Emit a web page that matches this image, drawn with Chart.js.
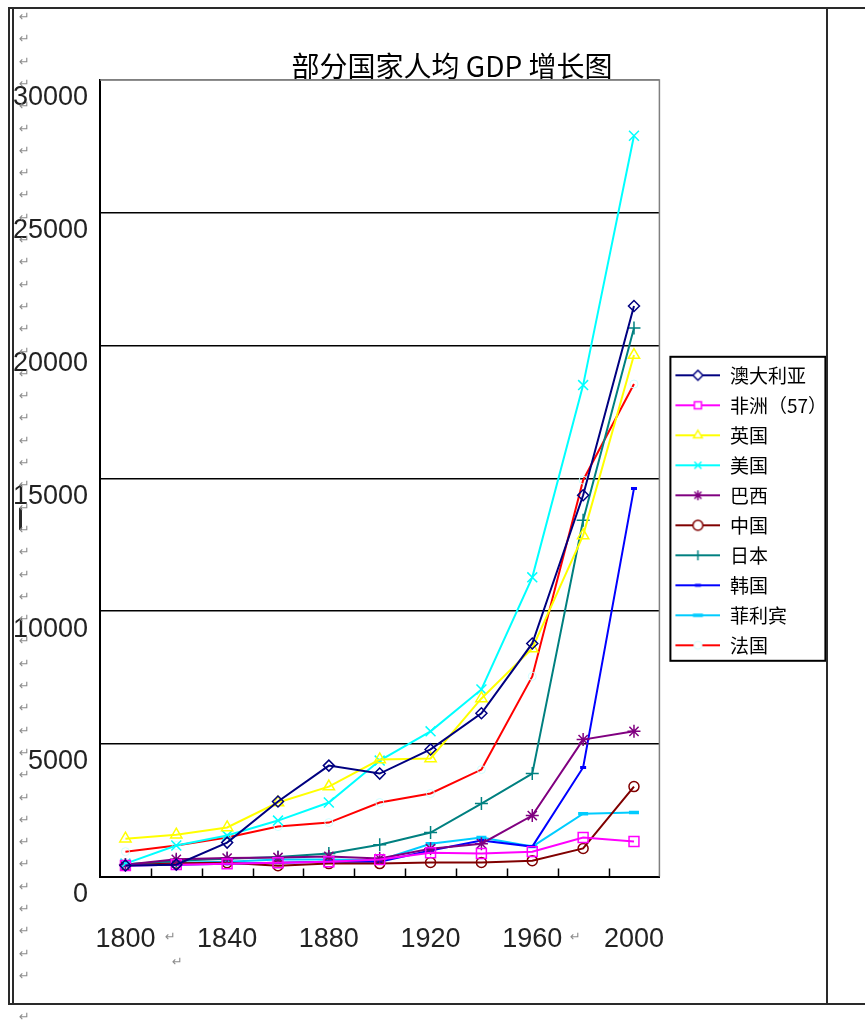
<!DOCTYPE html>
<html>
<head>
<meta charset="utf-8">
<script src="https://cdn.jsdelivr.net/npm/chart.js@4.4.1/dist/chart.umd.min.js"></script>
<style>
  html, body { margin: 0; padding: 0; background: #fff; width: 865px; height: 1024px; overflow: hidden; position: relative; }
  #wrap { position: absolute; left: 12px; top: 30px; width: 825px; height: 977px; }
  .ln { position: absolute; background: #2a2a2a; }
  .pm { position: absolute; font: 13px "DejaVu Sans"; color: #8c8c8c; line-height: 14px; }
</style>
</head>
<body>
<div id="wrap"><canvas id="myChart" width="825" height="977"></canvas></div>
<div id="deco"></div>
<script>
const years = ["1800", "1820", "1840", "1860", "1880", "1900", "1920", "1940", "1960", "1980", "2000"];
const xTickLabels = ["1800", "1840", "1880", "1920", "1960", "2000"];
const yTickLabels = ["0", "5000", "10000", "15000", "20000", "25000", "30000"];

const australia = [420, 450, 1280, 2830, 4180, 3880, 4790, 6150, 8780, 14360, 21490];
const africa = [420, 450, 480, 520, 560, 640, 900, 870, 940, 1470, 1320];
const uk = [1430, 1580, 1850, 2790, 3390, 4410, 4450, 6710, 8590, 12850, 19640];
const usa = [490, 1170, 1545, 2110, 2790, 4370, 5470, 7050, 11270, 18510, 27900];
const brazil = [450, 650, 700, 720, 760, 680, 1050, 1240, 2300, 5160, 5470];
const china = [420, 500, 520, 410, 490, 490, 530, 530, 600, 1060, 3390];
const japan = [460, 600, 670, 740, 870, 1200, 1660, 2750, 3880, 13420, 20660];
const korea = [420, 450, 480, 520, 560, 560, 980, 1360, 1130, 4110, 14620];
const philippines = [470, 520, 560, 640, 640, 620, 1240, 1470, 1130, 2370, 2410];
const france = [940, 1170, 1470, 1885, 2035, 2790, 3130, 4030, 7540, 14930, 18550];

// page frame and word paragraph marks
const deco = document.getElementById("deco");
function addLine(l, t, w, h) {
    const d = document.createElement("div");
    d.className = "ln";
    d.style.cssText = "left:" + l + "px;top:" + t + "px;width:" + w + "px;height:" + h + "px";
    deco.appendChild(d);
}
function addMark(l, t) {
    const d = document.createElement("div");
    d.className = "pm";
    d.textContent = "\u21B5";
    d.style.left = l + "px";
    d.style.top = t + "px";
    deco.appendChild(d);
}
addLine(8, 7, 2, 998);
addLine(12, 7, 2, 998);
addLine(8, 7, 857, 2);
addLine(8, 1003, 857, 2);
addLine(826, 7, 2, 998);
addLine(19, 508, 3, 22);
for (let i = 0; i < 44; i++) addMark(19, 10 + i * 22.3);
addMark(19, 1010);
addMark(165, 930);
addMark(570, 930);
addMark(172, 955);

function drawMarker(c, style, x, y, r, color, fill, lw) {
    c.save();
    c.strokeStyle = color;
    c.fillStyle = fill;
    c.lineWidth = lw;
    c.beginPath();
    const s = r * Math.SQRT1_2;
    if (style === "rectRot") {
        c.moveTo(x, y - r); c.lineTo(x + r, y); c.lineTo(x, y + r); c.lineTo(x - r, y); c.closePath();
    } else if (style === "rect") {
        c.rect(x - s, y - s, 2 * s, 2 * s);
    } else if (style === "triangle") {
        c.moveTo(x, y - r); c.lineTo(x + r * 0.866, y + r * 0.5); c.lineTo(x - r * 0.866, y + r * 0.5); c.closePath();
    } else if (style === "circle") {
        c.arc(x, y, r, 0, Math.PI * 2);
    } else if (style === "crossRot") {
        c.moveTo(x - s, y - s); c.lineTo(x + s, y + s); c.moveTo(x + s, y - s); c.lineTo(x - s, y + s);
    } else if (style === "cross") {
        c.moveTo(x, y - r); c.lineTo(x, y + r); c.moveTo(x - r, y); c.lineTo(x + r, y);
    } else if (style === "star") {
        c.moveTo(x, y - r); c.lineTo(x, y + r); c.moveTo(x - r, y); c.lineTo(x + r, y);
        c.moveTo(x - s, y - s); c.lineTo(x + s, y + s); c.moveTo(x + s, y - s); c.lineTo(x - s, y + s);
    } else if (style === "line") {
        c.moveTo(x - r, y); c.lineTo(x + r, y);
    }
    if (["rectRot", "rect", "triangle", "circle"].includes(style)) c.fill();
    c.stroke();
    c.restore();
}

function serie(label, data, color, style, radius, markerColor, markerWidth) {
    return {
        label: label,
        data: data,
        borderColor: color,
        backgroundColor: color,
        borderWidth: 2,
        pointStyle: style,
        pointRadius: radius,
        pointHoverRadius: radius,
        pointBorderColor: markerColor || color,
        pointBackgroundColor: "rgba(255,255,255,0)",
        pointBorderWidth: markerWidth || 1.5,
        tension: 0
    };
}

const datasets = [
    serie("澳大利亚", australia, "#000080", "rectRot", 5.5),
    serie("非洲（57）", africa, "#ff00ff", "rect", 7),
    serie("英国", uk, "#ffff00", "triangle", 6.5),
    serie("美国", usa, "#00ffff", "crossRot", 7),
    serie("巴西", brazil, "#800080", "star", 6.5),
    serie("中国", china, "#800000", "circle", 5),
    serie("日本", japan, "#008080", "cross", 6.5),
    serie("韩国", korea, "#0000ff", "line", 3, "#0000ff", 3),
    serie("菲利宾", philippines, "#00ccff", "line", 5, "#00ccff", 3.5),
    serie("法国", france, "#ff0000", "circle", 4, "#ccffff", 1)
];

// legend samples: line with marker, like the office chart
function legendImage(ds) {
    const cv = document.createElement("canvas");
    cv.width = 50;
    cv.height = 16;
    const c = cv.getContext("2d");
    c.strokeStyle = ds.borderColor;
    c.lineWidth = 2;
    c.beginPath();
    c.moveTo(5, 8);
    c.lineTo(50, 8);
    c.stroke();
    drawMarker(c, ds.pointStyle, 27.5, 8, Math.min(ds.pointRadius, 5), ds.pointBorderColor, "#fff", ds.pointBorderWidth);
    return cv;
}
const legendImages = datasets.map(legendImage);

const plotFrame = {
    id: "plotFrame",
    afterLayout(chart) {
        // title sits off-centre in the original, over x = 452
        const t = chart.titleBlock;
        if (!t) return;
        const w = t.right - t.left;
        t.left = 440 - w / 2;
        t.right = 440 + w / 2;
    },
    beforeDatasetsDraw(chart) {
        const { ctx, chartArea: a, scales: { x } } = chart;
        ctx.save();
        ctx.strokeStyle = "#808080";
        ctx.lineWidth = 1.5;
        ctx.beginPath();
        ctx.moveTo(a.left, a.top);
        ctx.lineTo(a.right, a.top);
        ctx.lineTo(a.right, a.bottom);
        ctx.stroke();
        ctx.strokeStyle = "#000";
        ctx.beginPath();
        const step = (x.right - x.left) / years.length;
        for (let i = 1; i < years.length; i++) {
            const px = Math.round(x.left + i * step) + 0.5;
            ctx.moveTo(px, a.bottom);
            ctx.lineTo(px, a.bottom - 8);
        }
        ctx.stroke();
        ctx.restore();
    }
};

const legendBorder = {
    id: "legendBorder",
    afterDraw(chart) {
        const hb = chart.legend.legendHitBoxes;
        if (!hb || !hb.length) return;
        const ctx = chart.ctx;
        const last = hb[hb.length - 1];
        const left = hb[0].left;
        const top = hb[0].top - 9;
        const bottom = last.top + last.height + 6;
        ctx.save();
        ctx.strokeStyle = "#000";
        ctx.lineWidth = 2;
        ctx.strokeRect(left, top, 155, bottom - top);
        ctx.restore();
    }
};

const ctx = document.getElementById("myChart");
new Chart(ctx, {
    type: "line",
    data: { labels: years, datasets: datasets },
    plugins: [plotFrame, legendBorder],
    options: {
        responsive: false,
        animation: false,
        layout: { padding: { left: 0, right: 0, top: 0, bottom: 4 } },
        plugins: {
            title: {
                display: true,
                text: "部分国家人均 GDP 增长图",
                color: "#000",
                font: { family: "Noto Sans CJK SC", size: 28, weight: "normal", lineHeight: 1 },
                padding: { top: 22, bottom: 0 }
            },
            legend: {
                position: "right",
                fullSize: false,
                title: { display: true, text: "", font: { size: 10 }, padding: { top: 52, bottom: 0 } },
                labels: {
                    usePointStyle: true,
                    pointStyleWidth: 50,
                    boxWidth: 50,
                    padding: 11,
                    color: "#000",
                    font: { family: "Noto Sans CJK SC", size: 19 },
                    generateLabels(chart) {
                        return chart.data.datasets.map((ds, i) => ({
                            text: ds.label,
                            fillStyle: ds.borderColor,
                            strokeStyle: ds.borderColor,
                            lineWidth: 0,
                            pointStyle: legendImages[i],
                            hidden: false,
                            datasetIndex: i,
                            fontColor: "#000"
                        }));
                    }
                }
            },
            tooltip: { enabled: false }
        },
        scales: {
            x: {
                offset: true,
                grid: { display: false, drawTicks: false },
                border: { display: true, color: "#000", width: 2 },
                ticks: {
                    autoSkip: false,
                    maxRotation: 0,
                    padding: 47,
                    color: "#222",
                    font: { family: "Liberation Sans", size: 27 },
                    callback(v, i) {
                        return xTickLabels.includes(years[i]) ? years[i] : "";
                    }
                }
            },
            y: {
                min: 0,
                max: 30000,
                afterFit(scale) { scale.width = 88; },
                grid: {
                    color: c => (c.tick && c.tick.value === 30000 ? "#808080" : "#000"),
                    lineWidth: 1.5,
                    drawTicks: false
                },
                border: { display: true, color: "#000", width: 2 },
                ticks: {
                    stepSize: 5000,
                    labelOffset: 18,
                    padding: 12,
                    color: "#222",
                    font: { family: "Liberation Sans", size: 27 },
                    callback(v) {
                        return yTickLabels[v / 5000];
                    }
                }
            }
        }
    }
});
</script>
</body>
</html>
